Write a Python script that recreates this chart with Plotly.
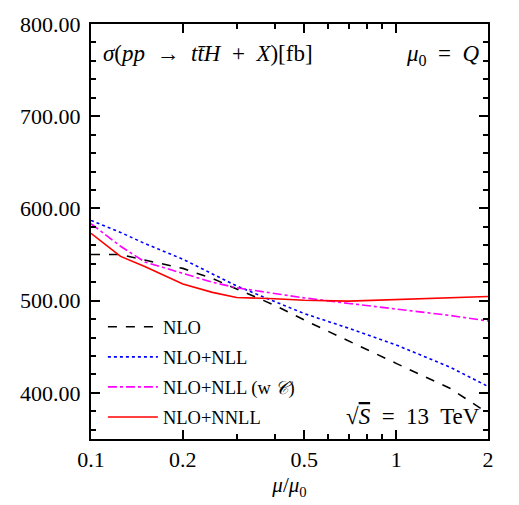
import plotly.graph_objects as go

mu = [0.1, 0.125, 0.15, 0.2, 0.25, 0.3, 0.4, 0.5, 0.7, 1.0, 1.5, 2.0]
nlo = [550, 550, 544, 535, 524, 513, 495, 479, 456, 432, 405, 378]
nlo_nll = [587, 574, 562, 545, 529, 516, 499, 486, 470, 452, 428, 407]
nlo_nll_c = [583.5, 559, 542, 530, 520, 514, 508, 503, 497, 491, 484, 478]
nlo_nnll = [573, 548, 537, 518, 509, 503.5, 502, 500.5, 499.5, 501, 503, 504.5]

names = ["NLO", "NLO+NLL", "NLO+NLL (w <i>𝒞</i>)", "NLO+NNLL"]
series = [nlo, nlo_nll, nlo_nll_c, nlo_nnll]
colors = ["black", "blue", "magenta", "red"]
dashes = ["dash", "dot", "dashdot", "solid"]

FONT = "Liberation Serif"

fig = go.Figure()
for i, (n, s, c, d) in enumerate(zip(names, series, colors, dashes)):
    fig.add_trace(go.Scatter(x=mu, y=s, mode="lines", name=n, legendgroup=str(i),
                             line=dict(color=c, dash=d, width=1.6)))

axis_common = dict(showline=True, linecolor="black", linewidth=2, mirror="ticks",
                   ticks="inside", tickcolor="black", tickwidth=1.5, ticklen=9,
                   showgrid=False, zeroline=False)

fig.update_xaxes(type="log", range=[-1, 0.30103],
                 tickvals=[0.1, 0.2, 0.5, 1, 2], ticktext=["0.1", "0.2", "0.5", "1", "2"],
                 minor=dict(tickvals=[0.3, 0.4, 0.6, 0.7, 0.8, 0.9], ticks="inside",
                            ticklen=5, tickcolor="black", tickwidth=1.5),
                 title=dict(text="<i>μ</i>/<i>μ</i><sub>0</sub>", font=dict(size=21), standoff=6),
                 **axis_common)
fig.update_yaxes(range=[350, 800], tickvals=[400, 500, 600, 700, 800], tickformat=".2f",
                 ticklabelstandoff=4,
                 minor=dict(dtick=20, ticks="inside", ticklen=5, tickcolor="black", tickwidth=1.5),
                 **axis_common)

fig.add_annotation(xref="paper", yref="paper", x=0.025, y=0.93, xanchor="left", yanchor="middle",
                   text="<i>σ</i>(<i>pp</i>  →  <i>tt̄H</i>  +  <i>X</i>)[fb]",
                   showarrow=False, font=dict(size=23))
fig.add_annotation(xref="paper", yref="paper", x=0.985, y=0.925, xanchor="right", yanchor="middle",
                   text="<i>μ</i><sub>0</sub>  =  <i>Q</i>", showarrow=False, font=dict(size=23))
fig.add_annotation(xref="paper", yref="paper", x=0.985, y=0.055, xanchor="right", yanchor="middle",
                   text="√<span style='text-decoration:overline'><i>S</i></span>  =  13  TeV",
                   showarrow=False, font=dict(size=23))

fig.update_layout(
    width=519, height=505,
    margin=dict(l=91, r=31, t=22, b=62),
    plot_bgcolor="white", paper_bgcolor="white",
    font=dict(family=FONT, size=22, color="black"),
    legend=dict(x=0.03, y=0.315, xanchor="left", yanchor="top", bgcolor="rgba(0,0,0,0)",
                font=dict(size=18.5), tracegroupgap=3, traceorder="grouped", itemwidth=50),
    showlegend=True,
)

fig.write_html("out.html")
